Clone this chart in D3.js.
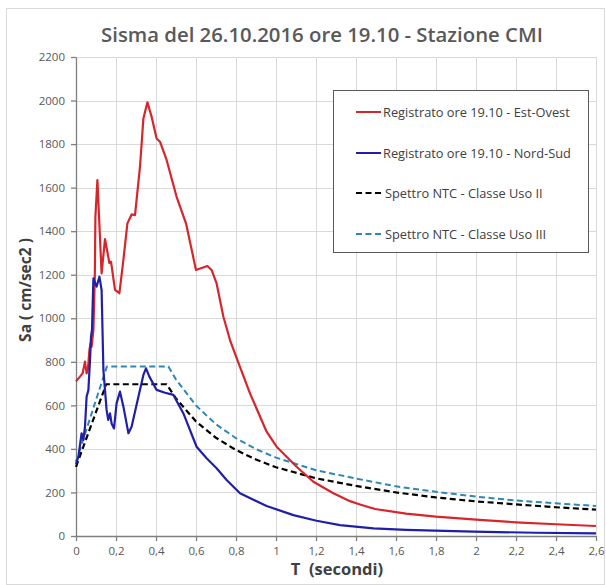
<!DOCTYPE html>
<html>
<head>
<meta charset="utf-8">
<script src="https://cdn.jsdelivr.net/npm/d3@7"></script>
<style>
  html, body { margin: 0; padding: 0; background: #fff; }
  svg { display: block; font-family: "Open Sans", "Noto Sans", sans-serif; }
</style>
</head>
<body>
<svg id="chart" width="606" height="585"></svg>
<script>
// ---------- DATA ----------
const titleText = "Sisma del 26.10.2016 ore 19.10 - Stazione CMI";
const xAxisTitle = "T  (secondi)";
const yAxisTitle = "Sa ( cm/sec2 )";
const xTicks = [0, 0.2, 0.4, 0.6, 0.8, 1, 1.2, 1.4, 1.6, 1.8, 2, 2.2, 2.4, 2.6];
const yTicks = [0, 200, 400, 600, 800, 1000, 1200, 1400, 1600, 1800, 2000, 2200];
const seriesNames = [
  "Registrato ore 19.10 - Est-Ovest",
  "Registrato ore 19.10 - Nord-Sud",
  "Spettro NTC - Classe Uso II",
  "Spettro NTC - Classe Uso III"
];

// Est-Ovest recorded spectrum [T, Sa]
const estOvest = [
  [0, 710], [0.02, 732], [0.033, 747], [0.045, 801], [0.053, 747], [0.06, 770],
  [0.067, 854], [0.073, 885], [0.078, 869], [0.087, 946], [0.094, 1190], [0.097, 1467],
  [0.107, 1635], [0.128, 1206], [0.145, 1364], [0.167, 1254], [0.175, 1260],
  [0.195, 1130], [0.217, 1115], [0.237, 1268], [0.257, 1436], [0.278, 1477],
  [0.295, 1474], [0.32, 1696], [0.337, 1918], [0.357, 1992], [0.378, 1926],
  [0.403, 1826], [0.42, 1811], [0.453, 1727], [0.503, 1558], [0.55, 1436],
  [0.6, 1222], [0.657, 1240], [0.678, 1222], [0.703, 1160], [0.737, 1007],
  [0.77, 900], [0.807, 808], [0.87, 655], [0.953, 479], [1.003, 410],
  [1.103, 318], [1.187, 249], [1.287, 196], [1.37, 160], [1.42, 145],
  [1.495, 124], [1.65, 103], [1.8, 89], [2.0, 75], [2.2, 63], [2.4, 54], [2.6, 46]
];

// Nord-Sud recorded spectrum [T, Sa]
const nordSud = [
  [0, 330], [0.012, 364], [0.028, 472], [0.037, 441], [0.045, 502], [0.053, 640],
  [0.062, 670], [0.07, 808], [0.075, 915], [0.08, 946], [0.087, 1183], [0.103, 1145],
  [0.117, 1191], [0.128, 1130], [0.137, 762], [0.153, 579], [0.161, 533],
  [0.17, 563], [0.178, 517], [0.19, 494], [0.203, 609], [0.22, 663],
  [0.237, 594], [0.262, 472], [0.278, 502], [0.312, 640], [0.337, 740],
  [0.35, 770], [0.367, 732], [0.403, 671], [0.445, 658], [0.487, 648],
  [0.537, 563], [0.603, 410], [0.653, 357], [0.703, 311], [0.753, 257],
  [0.82, 196], [0.953, 138], [1.087, 96], [1.203, 70], [1.32, 50], [1.487, 35],
  [1.65, 28], [1.987, 20], [2.3, 15], [2.6, 12]
];

// NTC design spectrum, Classe d'uso II [T, Sa]
const ntcUsoII = [
  [0, 318], [0.151, 697], [0.453, 697], [0.5, 632], [0.6, 526], [0.7, 451],
  [0.8, 395], [0.9, 351], [1.0, 316], [1.2, 265], [1.4, 230], [1.6, 200],
  [1.8, 177], [2.0, 159], [2.2, 145], [2.4, 132], [2.6, 121]
];

// NTC design spectrum, Classe d'uso III [T, Sa]
const ntcUsoIII = [
  [0, 341], [0.154, 778], [0.462, 778], [0.5, 719], [0.6, 599], [0.7, 513],
  [0.8, 449], [0.9, 399], [1.0, 360], [1.2, 302], [1.4, 264], [1.6, 228],
  [1.8, 203], [2.0, 181], [2.2, 163], [2.4, 150], [2.6, 138]
];

// ---------- STYLE / LAYOUT ----------
const colors = ["#d7262b", "#1f1fa8", "#000000", "#2f88b4"];
const dashes = [null, null, "6,3.5", "6,3.5"];
const widths = [2.2, 2.2, 2.2, 2.0];
const plot = { left: 76, right: 596, top: 57, bottom: 536 };

const svg = d3.select("#chart");

// chart border
svg.append("rect")
  .attr("x", 6.5).attr("y", 8.5).attr("width", 598).attr("height", 576)
  .attr("fill", "#fff").attr("stroke", "#d9d9d9").attr("stroke-width", 1);

const x = d3.scaleLinear().domain([0, 2.6]).range([plot.left, plot.right]);
const y = d3.scaleLinear().domain([0, 2200]).range([plot.bottom, plot.top]);

// gridlines
const grid = svg.append("g");
grid.selectAll("line.v").data(xTicks.slice(1)).join("line")
  .attr("x1", d => Math.round(x(d)) + 0.5).attr("x2", d => Math.round(x(d)) + 0.5)
  .attr("y1", plot.top).attr("y2", plot.bottom)
  .attr("stroke", "#d9d9d9").attr("stroke-width", 1);
grid.selectAll("line.h").data(yTicks.slice(1)).join("line")
  .attr("y1", d => Math.round(y(d)) + 0.5).attr("y2", d => Math.round(y(d)) + 0.5)
  .attr("x1", plot.left).attr("x2", plot.right)
  .attr("stroke", "#d9d9d9").attr("stroke-width", 1);

const fmtX = d => String(d).replace(".", ",");
const fmtY = d => String(d);

// axes
const xAxis = svg.append("g").attr("transform", `translate(0,${plot.bottom})`)
  .call(d3.axisBottom(x).tickValues(xTicks).tickFormat(fmtX).tickSize(5).tickSizeOuter(0).tickPadding(6));
const yAxis = svg.append("g").attr("transform", `translate(${plot.left},0)`)
  .call(d3.axisLeft(y).tickValues(yTicks).tickFormat(fmtY).tickSize(5).tickSizeOuter(0).tickPadding(6));
[xAxis, yAxis].forEach(g => {
  g.select(".domain").attr("stroke", "#7f7f7f").attr("stroke-width", 1.3);
  g.selectAll(".tick line").attr("stroke", "#7f7f7f").attr("stroke-width", 1.3);
  g.selectAll(".tick text").attr("fill", "#595959")
    .style("font-family", '"Open Sans", sans-serif').style("font-size", "11.5px");
});

// lines
const lineGen = d3.line().x(d => x(d[0])).y(d => y(d[1]));
const allSeries = [estOvest, nordSud, ntcUsoII, ntcUsoIII];
const order = [2, 3, 0, 1];
order.forEach(i => {
  svg.append("path")
    .datum(allSeries[i])
    .attr("d", lineGen)
    .attr("fill", "none")
    .attr("stroke", colors[i])
    .attr("stroke-width", widths[i])
    .attr("stroke-dasharray", dashes[i])
    .attr("stroke-linejoin", "round");
});

// title
const title = svg.append("text")
  .attr("x", 322).attr("y", 42).attr("text-anchor", "middle")
  .attr("fill", "#595959").style("font-weight", "600")
  .style("font-family", '"Open Sans", sans-serif')
  .style("font-size", "20px").text(titleText);
const tw = title.node().getComputedTextLength();
title.style("font-size", (20 * 442 / tw).toFixed(2) + "px");

// axis titles
svg.append("text")
  .attr("x", 337).attr("y", 575).attr("text-anchor", "middle")
  .attr("fill", "#404040").style("font-weight", "bold").style("font-size", "16.5px")
  .style("white-space", "pre")
  .text(xAxisTitle);
svg.append("text")
  .attr("transform", "translate(31,290) rotate(-90)").attr("text-anchor", "middle")
  .attr("fill", "#404040").style("font-weight", "bold").style("font-size", "15.5px")
  .style("white-space", "pre")
  .text(yAxisTitle);

// legend
const lg = svg.append("g");
lg.append("rect").attr("x", 333.5).attr("y", 90.5).attr("width", 255).attr("height", 162)
  .attr("fill", "#fff").attr("stroke", "#595959").attr("stroke-width", 1);
const rowsY = [112, 153, 193, 234];
seriesNames.forEach((name, i) => {
  lg.append("line")
    .attr("x1", 356).attr("x2", 381).attr("y1", rowsY[i]).attr("y2", rowsY[i])
    .attr("stroke", colors[i]).attr("stroke-width", 2)
    .attr("stroke-dasharray", dashes[i] ? "6,3.5" : null);
  lg.append("text")
    .attr("x", i < 2 ? 383 : 385).attr("y", rowsY[i] + 4.5)
    .attr("fill", "#404040").style("font-size", "12.8px")
    .text(name);
});
</script>
</body>
</html>
